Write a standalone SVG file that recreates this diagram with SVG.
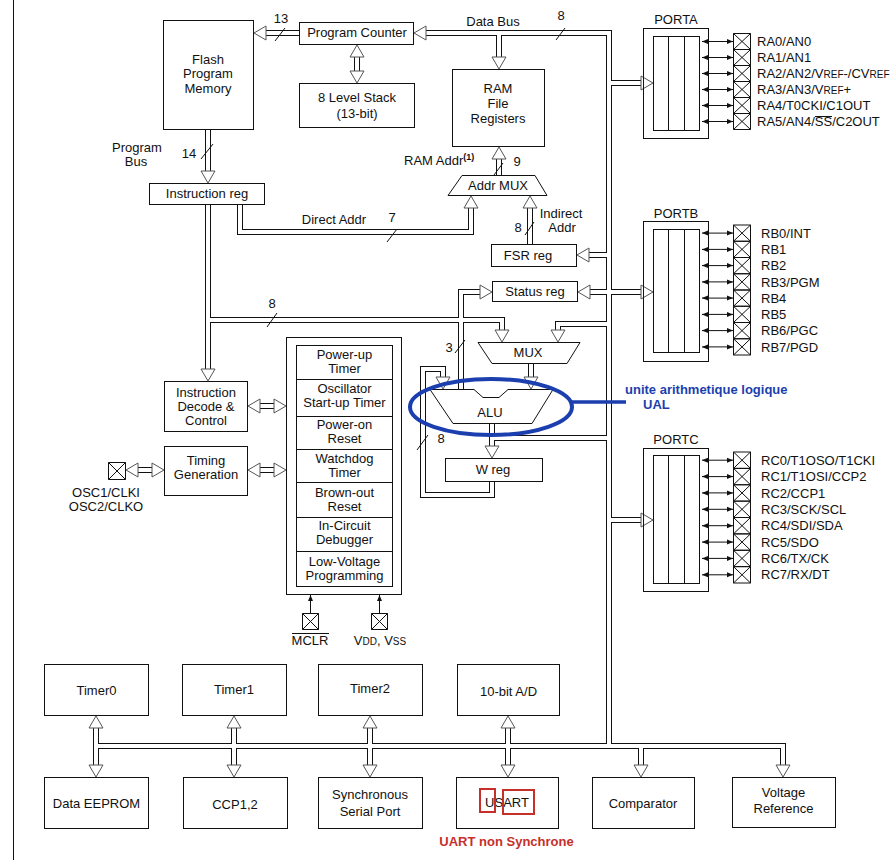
<svg xmlns="http://www.w3.org/2000/svg" width="896" height="860" viewBox="0 0 896 860">
<style>
text{font-family:"Liberation Sans",Arial,sans-serif;font-size:13px;fill:#111}
.m{text-anchor:middle}
.bx{fill:#fff;stroke:#111;stroke-width:1}
.nf{fill:none;stroke:#111;stroke-width:1}
.o{fill:none;stroke:#111;stroke-width:6;stroke-linejoin:miter}
.i{fill:none;stroke:#fff;stroke-width:4;stroke-linejoin:miter}
.ah{fill:#fff;stroke:#555;stroke-width:1}
.sl{stroke:#111;stroke-width:1}
.pin{stroke:#111;stroke-width:1;marker-start:url(#pa);marker-end:url(#pa)}
.up{stroke:#111;stroke-width:1;marker-end:url(#pa)}
.sm{font-size:10px}
.sup{font-size:9px;font-weight:bold}
.blue{fill:#1b3fae;font-weight:bold}
.red{fill:#c62f2a;font-weight:bold}
</style>
<defs>
<path id="ah" class="ah" d="M0,0 L-7,-12 L7,-12 Z"/>
<marker id="pa" viewBox="0 0 6 6" refX="6" refY="3" markerWidth="6" markerHeight="6" markerUnits="userSpaceOnUse" orient="auto-start-reverse"><path d="M0,0.5 L6,3 L0,5.5 Z" fill="#111"/></marker>
<path id="bus" d="M426,33 H609 V746 M96,746 H783 V765 M641,746 V765 M499,33 V57 M299,33 H266 M357,57 V71 M208,129 V171 M208,204 V369 M208,320 H502 V330 M240,204 V232 H471 V208 M499,175 V159 M530,244 V208 M609,255 H589 M590,292 H641 M609,83 H641 M609,520 H641 M609,324 H558 V330 M531,363 V377 M492,423 V446 M492,438 H609 M492,481 V495 H423 V369 H443 V377 M461,390 V292 H480 M260,406 H274 M260,470 H274 M138,470 H152 M96,728 V765 M234,728 V765 M370,728 V765 M508,728 V765"/>
</defs>
<rect width="896" height="860" fill="#fff"/>
<line x1="13.5" y1="0" x2="13.5" y2="860" class="sl"/>

<g id="connectors">
<use href="#bus" class="o"/>
<use href="#bus" class="i"/>
<use href="#ah" transform="translate(414,33) rotate(90)"/>
<use href="#ah" transform="translate(254,33) rotate(90)"/>
<use href="#ah" transform="translate(499,69)"/>
<use href="#ah" transform="translate(357,45) rotate(180)"/>
<use href="#ah" transform="translate(357,83)"/>
<use href="#ah" transform="translate(208,183)"/>
<use href="#ah" transform="translate(208,381)"/>
<use href="#ah" transform="translate(502,342)"/>
<use href="#ah" transform="translate(558,342)"/>
<use href="#ah" transform="translate(471,196) rotate(180)"/>
<use href="#ah" transform="translate(499,147) rotate(180)"/>
<use href="#ah" transform="translate(530,196) rotate(180)"/>
<use href="#ah" transform="translate(577,255) rotate(90)"/>
<use href="#ah" transform="translate(578,292) rotate(90)"/>
<use href="#ah" transform="translate(492,292) rotate(-90)"/>
<use href="#ah" transform="translate(653,83) rotate(-90)"/>
<use href="#ah" transform="translate(653,292) rotate(-90)"/>
<use href="#ah" transform="translate(653,520) rotate(-90)"/>
<use href="#ah" transform="translate(531,389)"/>
<use href="#ah" transform="translate(443,389)"/>
<use href="#ah" transform="translate(492,458)"/>
<use href="#ah" transform="translate(248,406) rotate(90)"/>
<use href="#ah" transform="translate(286,406) rotate(-90)"/>
<use href="#ah" transform="translate(248,470) rotate(90)"/>
<use href="#ah" transform="translate(286,470) rotate(-90)"/>
<use href="#ah" transform="translate(126,470) rotate(90)"/>
<use href="#ah" transform="translate(164,470) rotate(-90)"/>
<use href="#ah" transform="translate(96,716) rotate(180)"/>
<use href="#ah" transform="translate(96,777)"/>
<use href="#ah" transform="translate(234,716) rotate(180)"/>
<use href="#ah" transform="translate(234,777)"/>
<use href="#ah" transform="translate(370,716) rotate(180)"/>
<use href="#ah" transform="translate(370,777)"/>
<use href="#ah" transform="translate(508,716) rotate(180)"/>
<use href="#ah" transform="translate(508,777)"/>
<use href="#ah" transform="translate(641,777)"/>
<use href="#ah" transform="translate(783,777)"/>
<line class="up" x1="310.5" y1="613" x2="310.5" y2="595"/>
<line class="up" x1="379.5" y1="613" x2="379.5" y2="595"/>
<path class="sl" d="M556,40 L565,28 M275,41 L285,28 M201,159 L213,144 M387,242 L397,229 M494,175 L503,163 M525,235 L534,222 M267,327 L277,313 M455,353 L465,340 M417,450 L428,435"/>
<text class="m" x="561" y="20">8</text>
<text class="m" x="281" y="23">13</text>
<text class="m" x="189" y="158">14</text>
<text class="m" x="137" y="152">Program</text>
<text class="m" x="136" y="166">Bus</text>
<text class="m" x="493" y="26">Data Bus</text>
<text class="m" x="334" y="224">Direct Addr</text>
<text class="m" x="392" y="222">7</text>
<text x="404" y="165">RAM Addr<tspan class="sup" dy="-5">(1)</tspan></text>
<text class="m" x="517" y="166">9</text>
<text class="m" x="561" y="218">Indirect</text>
<text class="m" x="562" y="232">Addr</text>
<text class="m" x="518" y="232">8</text>
<text class="m" x="272" y="308">8</text>
<text class="m" x="449" y="352">3</text>
<text class="m" x="441" y="443">8</text>
</g>

<g id="flash"><rect class="bx" x="163.5" y="20.5" width="90" height="109"/><text class="m" x="208" y="64">Flash</text><text class="m" x="208" y="78">Program</text><text class="m" x="208" y="93">Memory</text></g>
<g id="pc"><rect class="bx" x="299.5" y="22.5" width="114" height="22"/><text class="m" x="357" y="37">Program Counter</text></g>
<g id="stack"><rect class="bx" x="299.5" y="83.5" width="115" height="44"/><text class="m" x="357" y="102">8 Level Stack</text><text class="m" x="357" y="118">(13-bit)</text></g>
<g id="ram"><rect class="bx" x="452.5" y="69.5" width="92" height="77"/><text class="m" x="498" y="93">RAM</text><text class="m" x="498" y="108">File</text><text class="m" x="498" y="123">Registers</text></g>
<g id="ireg"><rect class="bx" x="149.5" y="183.5" width="115" height="21"/><text class="m" x="207" y="198">Instruction reg</text></g>
<g id="addrmux"><polygon class="bx" points="462,175.5 535,175.5 547,195.5 448,195.5"/><text class="m" x="498" y="190">Addr MUX</text></g>
<g id="fsr"><rect class="bx" x="491.5" y="244.5" width="85" height="22"/><text class="m" x="528" y="260">FSR reg</text></g>
<g id="status"><rect class="bx" x="492.5" y="281.5" width="85" height="20"/><text class="m" x="535" y="296">Status reg</text></g>
<g id="mux"><polygon class="bx" points="478,342.5 580,342.5 567,363.5 492,363.5"/><text class="m" x="528" y="357">MUX</text></g>
<g id="alu"><polygon class="bx" points="430,389.5 474,389.5 483,397.5 499,397.5 508,389.5 553,389.5 532,423.5 453,423.5"/><text class="m" x="490" y="417">ALU</text></g>
<g id="wreg"><rect class="bx" x="445.5" y="458.5" width="97" height="23"/><text class="m" x="493" y="474">W reg</text></g>
<g id="decode"><rect class="bx" x="164.5" y="381.5" width="83" height="50"/><text class="m" x="206" y="397">Instruction</text><text class="m" x="206" y="411">Decode &amp;</text><text class="m" x="206" y="425">Control</text></g>
<g id="timing"><rect class="bx" x="164.5" y="446.5" width="83" height="49"/><text class="m" x="206" y="465">Timing</text><text class="m" x="206" y="479">Generation</text></g>
<g id="osc"><path class="bx" d="M108.5,462.5 h17 v17 h-17 z M108.5,462.5 l17,17 M125.5,462.5 l-17,17"/><text class="m" x="106" y="497">OSC1/CLKI</text><text class="m" x="106" y="511">OSC2/CLKO</text></g>

<g id="resetblock">
<rect class="bx" x="286.5" y="337.5" width="115" height="257"/>
<rect class="bx" x="296.5" y="345.5" width="96" height="241"/>
<path class="nf" d="M296.5,379.5 H392.5 M296.5,416.5 H392.5 M296.5,449.5 H392.5 M296.5,482.5 H392.5 M296.5,517.5 H392.5 M296.5,551.5 H392.5"/>
<text class="m" x="344.5" y="359">Power-up</text><text class="m" x="344.5" y="373">Timer</text>
<text class="m" x="344.5" y="393">Oscillator</text><text class="m" x="344.5" y="407">Start-up Timer</text>
<text class="m" x="344.5" y="429">Power-on</text><text class="m" x="344.5" y="443">Reset</text>
<text class="m" x="344.5" y="463">Watchdog</text><text class="m" x="344.5" y="477">Timer</text>
<text class="m" x="344.5" y="497">Brown-out</text><text class="m" x="344.5" y="511">Reset</text>
<text class="m" x="344.5" y="530">In-Circuit</text><text class="m" x="344.5" y="544">Debugger</text>
<text class="m" x="344.5" y="566">Low-Voltage</text><text class="m" x="344.5" y="580">Programming</text>
</g>
<g id="mclr"><path class="bx" d="M302.5,613.5 h16 v16 h-16 z M302.5,613.5 l16,16 M318.5,613.5 l-16,16"/><line class="sl" x1="292" y1="633.5" x2="329" y2="633.5"/><text class="m" x="310" y="645">MCLR</text></g>
<g id="vdd"><path class="bx" d="M371.5,613.5 h16 v16 h-16 z M371.5,613.5 l16,16 M387.5,613.5 l-16,16"/><text class="m" x="380" y="645">V<tspan class="sm">DD</tspan>, V<tspan class="sm">SS</tspan></text></g>

<g id="porta">
<text class="m" x="676" y="24">PORTA</text>
<rect class="nf" x="643.5" y="28.5" width="65" height="110"/>
<rect class="nf" x="653.5" y="36.5" width="46" height="94"/>
<path class="nf" d="M668.5,36.5 V130.5 M684.5,36.5 V130.5"/>
<line class="pin" x1="702" y1="41.5" x2="733" y2="41.5"/>
<line class="pin" x1="702" y1="57.5" x2="733" y2="57.5"/>
<line class="pin" x1="702" y1="73.5" x2="733" y2="73.5"/>
<line class="pin" x1="702" y1="89.5" x2="733" y2="89.5"/>
<line class="pin" x1="702" y1="105.5" x2="733" y2="105.5"/>
<line class="pin" x1="702" y1="121.5" x2="733" y2="121.5"/>
<path class="bx" d="M733.5,33.5 h17 v16 h-17 z M733.5,33.5 l17,16 M750.5,33.5 l-17,16 M733.5,49.5 h17 v16 h-17 z M733.5,49.5 l17,16 M750.5,49.5 l-17,16 M733.5,65.5 h17 v16 h-17 z M733.5,65.5 l17,16 M750.5,65.5 l-17,16 M733.5,81.5 h17 v16 h-17 z M733.5,81.5 l17,16 M750.5,81.5 l-17,16 M733.5,97.5 h17 v16 h-17 z M733.5,97.5 l17,16 M750.5,97.5 l-17,16 M733.5,113.5 h17 v16 h-17 z M733.5,113.5 l17,16 M750.5,113.5 l-17,16"/>
<text x="757" y="46">RA0/AN0</text>
<text x="757" y="62">RA1/AN1</text>
<text x="757" y="78">RA2/AN2/V<tspan class="sm">REF</tspan>-/CV<tspan class="sm">REF</tspan></text>
<text x="757" y="94">RA3/AN3/V<tspan class="sm">REF</tspan>+</text>
<text x="757" y="110">RA4/T0CKI/C1OUT</text>
<text x="757" y="126">RA5/AN4/SS/C2OUT</text>
<line class="sl" x1="815" y1="116.5" x2="832" y2="116.5"/>
</g>

<g id="portb">
<text class="m" x="676" y="218">PORTB</text>
<rect class="nf" x="643.5" y="221.5" width="65" height="140"/>
<rect class="nf" x="653.5" y="229.5" width="46" height="123"/>
<path class="nf" d="M668.5,229.5 V352.5 M684.5,229.5 V352.5"/>
<line class="pin" x1="702" y1="233.1" x2="733" y2="233.1"/>
<line class="pin" x1="702" y1="249.4" x2="733" y2="249.4"/>
<line class="pin" x1="702" y1="265.6" x2="733" y2="265.6"/>
<line class="pin" x1="702" y1="281.9" x2="733" y2="281.9"/>
<line class="pin" x1="702" y1="298.1" x2="733" y2="298.1"/>
<line class="pin" x1="702" y1="314.4" x2="733" y2="314.4"/>
<line class="pin" x1="702" y1="330.6" x2="733" y2="330.6"/>
<line class="pin" x1="702" y1="346.9" x2="733" y2="346.9"/>
<path class="bx" d="M733.5,225 h17 v16.25 h-17 z M733.5,225 l17,16.25 M750.5,225 l-17,16.25 M733.5,241.25 h17 v16.25 h-17 z M733.5,241.25 l17,16.25 M750.5,241.25 l-17,16.25 M733.5,257.5 h17 v16.25 h-17 z M733.5,257.5 l17,16.25 M750.5,257.5 l-17,16.25 M733.5,273.75 h17 v16.25 h-17 z M733.5,273.75 l17,16.25 M750.5,273.75 l-17,16.25 M733.5,290 h17 v16.25 h-17 z M733.5,290 l17,16.25 M750.5,290 l-17,16.25 M733.5,306.25 h17 v16.25 h-17 z M733.5,306.25 l17,16.25 M750.5,306.25 l-17,16.25 M733.5,322.5 h17 v16.25 h-17 z M733.5,322.5 l17,16.25 M750.5,322.5 l-17,16.25 M733.5,338.75 h17 v16.25 h-17 z M733.5,338.75 l17,16.25 M750.5,338.75 l-17,16.25"/>
<text x="761" y="238">RB0/INT</text>
<text x="761" y="254">RB1</text>
<text x="761" y="270">RB2</text>
<text x="761" y="286.5">RB3/PGM</text>
<text x="761" y="302.5">RB4</text>
<text x="761" y="319">RB5</text>
<text x="761" y="335">RB6/PGC</text>
<text x="761" y="351.5">RB7/PGD</text>
</g>

<g id="portc">
<text class="m" x="676" y="444">PORTC</text>
<rect class="nf" x="643.5" y="448.5" width="65" height="143"/>
<rect class="nf" x="653.5" y="455.5" width="46" height="128"/>
<path class="nf" d="M668.5,455.5 V583.5 M684.5,455.5 V583.5"/>
<line class="pin" x1="702" y1="460.2" x2="733" y2="460.2"/>
<line class="pin" x1="702" y1="476.6" x2="733" y2="476.6"/>
<line class="pin" x1="702" y1="492.9" x2="733" y2="492.9"/>
<line class="pin" x1="702" y1="509.3" x2="733" y2="509.3"/>
<line class="pin" x1="702" y1="525.7" x2="733" y2="525.7"/>
<line class="pin" x1="702" y1="542.1" x2="733" y2="542.1"/>
<line class="pin" x1="702" y1="558.4" x2="733" y2="558.4"/>
<line class="pin" x1="702" y1="574.8" x2="733" y2="574.8"/>
<path class="bx" d="M733.5,452 h17 v16.375 h-17 z M733.5,452 l17,16.375 M750.5,452 l-17,16.375 M733.5,468.375 h17 v16.375 h-17 z M733.5,468.375 l17,16.375 M750.5,468.375 l-17,16.375 M733.5,484.75 h17 v16.375 h-17 z M733.5,484.75 l17,16.375 M750.5,484.75 l-17,16.375 M733.5,501.125 h17 v16.375 h-17 z M733.5,501.125 l17,16.375 M750.5,501.125 l-17,16.375 M733.5,517.5 h17 v16.375 h-17 z M733.5,517.5 l17,16.375 M750.5,517.5 l-17,16.375 M733.5,533.875 h17 v16.375 h-17 z M733.5,533.875 l17,16.375 M750.5,533.875 l-17,16.375 M733.5,550.25 h17 v16.375 h-17 z M733.5,550.25 l17,16.375 M750.5,550.25 l-17,16.375 M733.5,566.625 h17 v16.375 h-17 z M733.5,566.625 l17,16.375 M750.5,566.625 l-17,16.375"/>
<text x="761" y="465">RC0/T1OSO/T1CKI</text>
<text x="761" y="481">RC1/T1OSI/CCP2</text>
<text x="761" y="497.5">RC2/CCP1</text>
<text x="761" y="514">RC3/SCK/SCL</text>
<text x="761" y="530">RC4/SDI/SDA</text>
<text x="761" y="546.5">RC5/SDO</text>
<text x="761" y="563">RC6/TX/CK</text>
<text x="761" y="579">RC7/RX/DT</text>
</g>

<g id="timer0"><rect class="bx" x="44.5" y="664.5" width="104" height="51"/><text class="m" x="96.5" y="694.5">Timer0</text></g>
<g id="timer1"><rect class="bx" x="182.5" y="664.5" width="104" height="51"/><text class="m" x="234" y="694">Timer1</text></g>
<g id="timer2"><rect class="bx" x="318.5" y="664.5" width="104" height="51"/><text class="m" x="370" y="693">Timer2</text></g>
<g id="adc"><rect class="bx" x="457.5" y="664.5" width="102" height="51"/><text class="m" x="508.5" y="696">10-bit A/D</text></g>
<g id="eeprom"><rect class="bx" x="44.5" y="777.5" width="104" height="51"/><text class="m" x="96.5" y="807.5">Data EEPROM</text></g>
<g id="ccp"><rect class="bx" x="183.5" y="777.5" width="104" height="51"/><text class="m" x="235" y="808.5">CCP1,2</text></g>
<g id="ssp"><rect class="bx" x="318.5" y="777.5" width="104" height="51"/><text class="m" x="370" y="798.5">Synchronous</text><text class="m" x="370" y="815.5">Serial Port</text></g>
<g id="usart"><rect class="bx" x="456.5" y="777.5" width="102" height="51"/><text class="m" x="507" y="807">USART</text>
<rect x="480" y="789" width="15" height="23" fill="none" stroke="#c62f2a" stroke-width="2"/>
<rect x="503" y="790" width="31" height="24" fill="none" stroke="#c62f2a" stroke-width="2"/>
<text class="m red" x="506.5" y="846">UART non Synchrone</text></g>
<g id="comparator"><rect class="bx" x="592.5" y="777.5" width="102" height="51"/><text class="m" x="643" y="807.5">Comparator</text></g>
<g id="vref"><rect class="bx" x="732.5" y="777.5" width="103" height="50"/><text class="m" x="783.5" y="796.5">Voltage</text><text class="m" x="783.5" y="812.5">Reference</text></g>

<g id="ual-note">
<ellipse cx="491" cy="407" rx="81" ry="28" fill="none" stroke="#1b3fae" stroke-width="4"/>
<line x1="572" y1="402" x2="626" y2="402" stroke="#1b3fae" stroke-width="3.5"/>
<text class="blue" x="625" y="394">unite arithmetique logique</text>
<text class="blue" x="643" y="409">UAL</text>
</g>
</svg>
